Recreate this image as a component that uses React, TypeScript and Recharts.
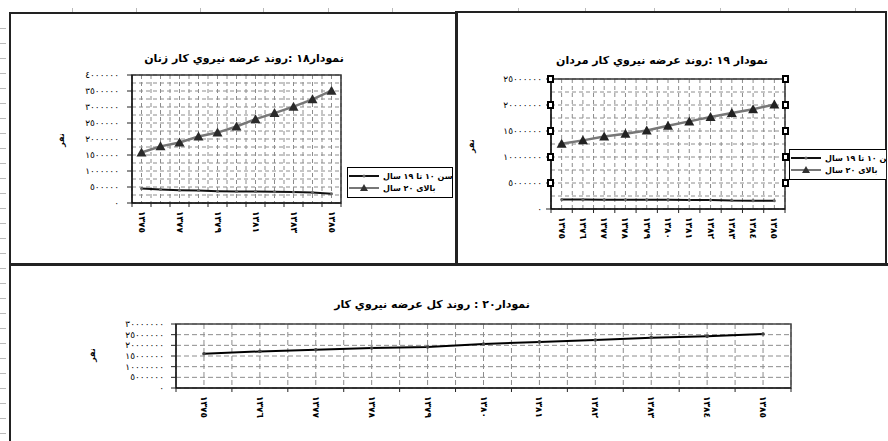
import React from "react";
import { CartesianGrid, Legend, Line, LineChart, ReferenceArea, XAxis, YAxis } from "recharts";

const years = [1375, 1376, 1377, 1378, 1379, 1380, 1381, 1382, 1383, 1384, 1385];

// women, persons
const womenTeen = [450000, 420000, 400000, 390000, 370000, 360000, 360000, 350000, 340000, 330000, 290000];
const womenAdult = [1580000, 1770000, 1890000, 2080000, 2200000, 2390000, 2620000, 2810000, 3010000, 3240000, 3510000];

// men, persons
const menTeen = [1820000, 1810000, 1800000, 1790000, 1780000, 1760000, 1750000, 1740000, 1620000, 1600000, 1580000];
const menAdult = [12560000, 13200000, 13960000, 14480000, 15100000, 16000000, 16850000, 17700000, 18460000, 19200000, 20100000];

// total
const totalLabour = [16080000, 17160000, 17960000, 18750000, 19200000, 20600000, 21600000, 22500000, 23600000, 24200000, 25300000];

const womenTicks = [0, 500000, 1000000, 1500000, 2000000, 2500000, 3000000, 3500000, 4000000];
const menTicks = [0, 5000000, 10000000, 15000000, 20000000, 25000000];
const totalTicks = [0, 5000000, 10000000, 15000000, 20000000, 25000000, 30000000];

const teenLabel = "سن ١٠ تا ١٩ سال";
const adultLabel = "بالای ٢٠ سال";
const titleWomen = "نمودار١٨ :روند عرضه نیروي کار زنان";
const titleMen = "نمودار ١٩ :روند عرضه نیروي کار مردان";
const titleTotal = "نمودار٢٠ : روند کل عرضه نیروي کار";
const axisTitle = "نفر";

const FONT = "'DejaVu Sans', sans-serif";
const AR = "٠١٢٣٤٥٦٧٨٩";
const fa = (n: number) => String(n).replace(/\d/g, (d) => AR[+d]);

const withMinor = (t: number[]) => t.flatMap((v, k) => (k === 0 ? [v] : [(t[k - 1] + v) / 2, v]));
const xTicks = years.flatMap((_, i) => [i - 0.5, i]).concat(years.length - 0.5);
const xDomain = [-0.5, years.length - 0.5];

const womenRows = years.map((y, i) => ({ i, teen: womenTeen[i], adult: womenAdult[i] }));
const menRows = years.map((y, i) => ({ i, teen: menTeen[i], adult: menAdult[i] }));
const totalRows = years.map((y, i) => ({ i, total: totalLabour[i] }));

const makeXTick = (every: number) => (p: any) => {
  const { x, y, payload } = p;
  const v = payload.value;
  if (!Number.isInteger(v)) return <line x1={x} x2={x} y1={y} y2={y + 4} stroke="#222" />;
  if (v % every) return <g />;
  const ty = y + 8;
  return (
    <text x={x} y={ty} transform={`rotate(90 ${x} ${ty})`} textAnchor="start" dominantBaseline="central"
      fontSize={9} fontWeight="bold" fontFamily={FONT} fill="#000">
      {fa(years[v])}
    </text>
  );
};

const makeYTick = (major: number[], gap: number, handles = false) => (p: any) => {
  const { x, y, payload } = p;
  const v = payload.value;
  if (!major.includes(v)) return <g />;
  return (
    <g>
      <line x1={x - 5} x2={x} y1={y} y2={y} stroke="#222" />
      {handles && v > 0 && <rect x={x - 3} y={y - 3} width={5} height={6} fill="#fff" stroke="#000" strokeWidth={2} />}
      <text x={x - gap} y={y} textAnchor="end" dominantBaseline="central" fontSize={9} fontFamily={FONT} fill="#000">
        {fa(v)}
      </text>
    </g>
  );
};

const handleTick = (p: any) => {
  const { x, y, payload } = p;
  if (!menTicks.includes(payload.value) || payload.value === 0) return <g />;
  return <rect x={x - 2} y={y - 3} width={5} height={6} fill="#fff" stroke="#000" strokeWidth={2} />;
};

const triangleDot = (fill: string) => (p: any) => {
  const { cx, cy, index } = p;
  return <polygon key={`t-${index}`} points={`${cx},${cy - 5} ${cx - 5},${cy + 4} ${cx + 5},${cy + 4}`} fill={fill} />;
};

const smallDot = (fill: string, r: number) => (p: any) => {
  const { cx, cy, index } = p;
  return <circle key={`d-${index}`} cx={cx} cy={cy} r={r} fill={fill} />;
};

type Entry = { name: string; stroke: string; width: number; marker: "dot" | "triangle" };

const legendItems: Entry[] = [
  { name: teenLabel, stroke: "#111", width: 2, marker: "dot" },
  { name: adultLabel, stroke: "#777", width: 2, marker: "triangle" },
];

function LegendBox({ items, width }: { items: Entry[]; width: number }) {
  return (
    <div style={{ border: "1.5px solid #000", background: "#fff", width, padding: "2px 0 3px", boxSizing: "border-box",
      fontFamily: FONT, fontSize: 8, fontWeight: "bold", color: "#000" }}>
      {items.map((it) => (
        <div key={it.name} style={{ display: "flex", alignItems: "center", height: 12, whiteSpace: "nowrap" }}>
          <svg width={32} height={10} style={{ flex: "none" }}>
            <line x1={1} x2={31} y1={5} y2={5} stroke={it.stroke} strokeWidth={it.width} />
            {it.marker === "triangle"
              ? <polygon points="16,1 12,8 20,8" fill="#333" />
              : <circle cx={16} cy={5} r={1.5} fill="#666" />}
          </svg>
          <span dir="rtl" style={{ marginLeft: 3 }}>{it.name}</span>
        </div>
      ))}
    </div>
  );
}

function Title({ text, cx, cy }: { text: string; cx: number; cy: number }) {
  return (
    <div dir="rtl" style={{ position: "absolute", left: cx - 160, top: cy - 8, width: 320, height: 16, lineHeight: "16px",
      textAlign: "center", fontFamily: FONT, fontSize: 11, fontWeight: "bold", color: "#000" }}>
      {text}
    </div>
  );
}

function AxisTitle({ cx, cy }: { cx: number; cy: number }) {
  return (
    <div style={{ position: "absolute", left: cx - 15, top: cy - 6, width: 30, height: 12, lineHeight: "12px", textAlign: "center",
      fontFamily: FONT, fontSize: 8, fontWeight: "bold", transform: "rotate(-90deg)" }}>
      {axisTitle}
    </div>
  );
}

const grid = { stroke: "#8c8c8c", strokeDasharray: "4 3" };

function WomenChart() {
  return (
    <LineChart width={456} height={262} data={womenRows} margin={{ top: 75, right: 115, bottom: 0, left: 0 }}>
      <CartesianGrid {...grid} />
      <XAxis dataKey="i" type="number" domain={xDomain} ticks={xTicks} interval={0} allowDataOverflow
        height={59} tickSize={0} tickMargin={0} tickLine={false} axisLine={{ stroke: "#000" }} tick={makeXTick(2)} />
      <YAxis type="number" domain={[0, 4000000]} ticks={withMinor(womenTicks)} interval={0} allowDataOverflow
        width={132} tickSize={0} tickMargin={0} tickLine={false} axisLine={{ stroke: "#000" }} tick={makeYTick(womenTicks, 13)} />
      <ReferenceArea x1={-0.5} x2={10.5} y1={0} y2={4000000} fill="none" stroke="#333" strokeWidth={1.5} ifOverflow="visible" />
      <Line dataKey="teen" name={teenLabel} stroke="#111" strokeWidth={2} dot={smallDot("#666", 1.5)} isAnimationActive={false} />
      <Line dataKey="adult" name={adultLabel} stroke="#777" strokeWidth={2.5} dot={triangleDot("#2a2a2a")} isAnimationActive={false} />
      <Legend layout="vertical" align="center" verticalAlign="middle" wrapperStyle={{ left: 347, top: 167, width: 106 }}
        content={() => <LegendBox items={legendItems} width={106} />} />
    </LineChart>
  );
}

function MenChart() {
  return (
    <LineChart width={429} height={262} data={menRows} margin={{ top: 79, right: 95, bottom: 0, left: 0 }}>
      <CartesianGrid {...grid} />
      <XAxis dataKey="i" type="number" domain={xDomain} ticks={xTicks} interval={0} allowDataOverflow
        height={53} tickSize={0} tickMargin={0} tickLine={false} axisLine={{ stroke: "#000" }} tick={makeXTick(1)} />
      <YAxis type="number" domain={[0, 25000000]} ticks={withMinor(menTicks)} interval={0} allowDataOverflow
        width={94} tickSize={0} tickMargin={0} tickLine={false} axisLine={{ stroke: "#000" }} tick={makeYTick(menTicks, 9, true)} />
      <YAxis yAxisId="r" orientation="right" type="number" domain={[0, 25000000]} ticks={menTicks} interval={0} allowDataOverflow
        width={6} tickSize={0} tickMargin={0} tickLine={false} axisLine={false} tick={handleTick} />
      <ReferenceArea x1={-0.5} x2={10.5} y1={0} y2={25000000} fill="none" stroke="#333" strokeWidth={1.5} ifOverflow="visible" />
      <Line dataKey="teen" name={teenLabel} stroke="#111" strokeWidth={2} dot={smallDot("#666", 1.5)} isAnimationActive={false} />
      <Line dataKey="adult" name={adultLabel} stroke="#777" strokeWidth={2.5} dot={triangleDot("#222")} isAnimationActive={false} />
      <Legend layout="vertical" align="center" verticalAlign="middle" wrapperStyle={{ left: 332, top: 149, width: 120 }}
        content={() => <LegendBox items={legendItems} width={120} />} />
    </LineChart>
  );
}

function TotalChart() {
  return (
    <LineChart width={888} height={175} data={totalRows} margin={{ top: 58, right: 97, bottom: 0, left: 0 }}>
      <CartesianGrid {...grid} strokeDasharray="5 3" />
      <XAxis dataKey="i" type="number" domain={xDomain} ticks={xTicks} interval={0} allowDataOverflow
        height={53} tickSize={0} tickMargin={0} tickLine={false} axisLine={{ stroke: "#000" }} tick={makeXTick(1)} />
      <YAxis type="number" domain={[0, 30000000]} ticks={totalTicks} interval={0} allowDataOverflow
        width={176} tickSize={0} tickMargin={0} tickLine={false} axisLine={{ stroke: "#000" }} tick={makeYTick(totalTicks, 12)} />
      <ReferenceArea x1={-0.5} x2={10.5} y1={0} y2={30000000} fill="none" stroke="#444" strokeWidth={1.5} ifOverflow="visible" />
      <Line dataKey="total" stroke="#000" strokeWidth={2} dot={smallDot("#444", 1.8)} isAnimationActive={false} />
    </LineChart>
  );
}

const leftRuler = Array.from({ length: 28 }, (_, k) => 28 + k * 15);
const topRuler = [72, 136, 200, 263, 328, 392, 518, 585, 654, 720, 788, 855];

export default function App() {
  return (
    <div style={{ position: "absolute", left: 0, top: 0, width: 888, height: 441, overflow: "hidden", background: "#fff" }}>
      {leftRuler.map((y) => (
        <div key={`l${y}`} style={{ position: "absolute", left: 0, top: y, width: 6, height: 1, background: "#bbb" }} />
      ))}
      {topRuler.map((x) => (
        <div key={`t${x}`} style={{ position: "absolute", left: x, top: 8, width: 1, height: 4, background: "#bbb" }} />
      ))}
      <div style={{ position: "absolute", left: 9, top: 12, width: 448, height: 253, border: "2px solid #222", boxSizing: "border-box" }} />
      <div style={{ position: "absolute", left: 455, top: 11, width: 432, height: 254, border: "2px solid #222", borderLeftWidth: 3, boxSizing: "border-box" }} />
      <div style={{ position: "absolute", left: 9, top: 263, width: 900, height: 200, borderTop: "3px solid #222", borderLeft: "2px solid #222", boxSizing: "border-box" }} />

      <div style={{ position: "absolute", left: 0, top: 0 }}>
        <WomenChart />
      </div>
      <div style={{ position: "absolute", left: 457, top: 0, width: 429, height: 262, overflow: "hidden" }}>
        <MenChart />
      </div>
      <div style={{ position: "absolute", left: 0, top: 266 }}>
        <TotalChart />
      </div>

      <Title text={titleWomen} cx={244} cy={59} />
      <Title text={titleMen} cx={662} cy={61} />
      <Title text={titleTotal} cx={432} cy={305} />
      <AxisTitle cx={62} cy={140} />
      <AxisTitle cx={472} cy={146} />
      <AxisTitle cx={93} cy={355} />
    </div>
  );
}
